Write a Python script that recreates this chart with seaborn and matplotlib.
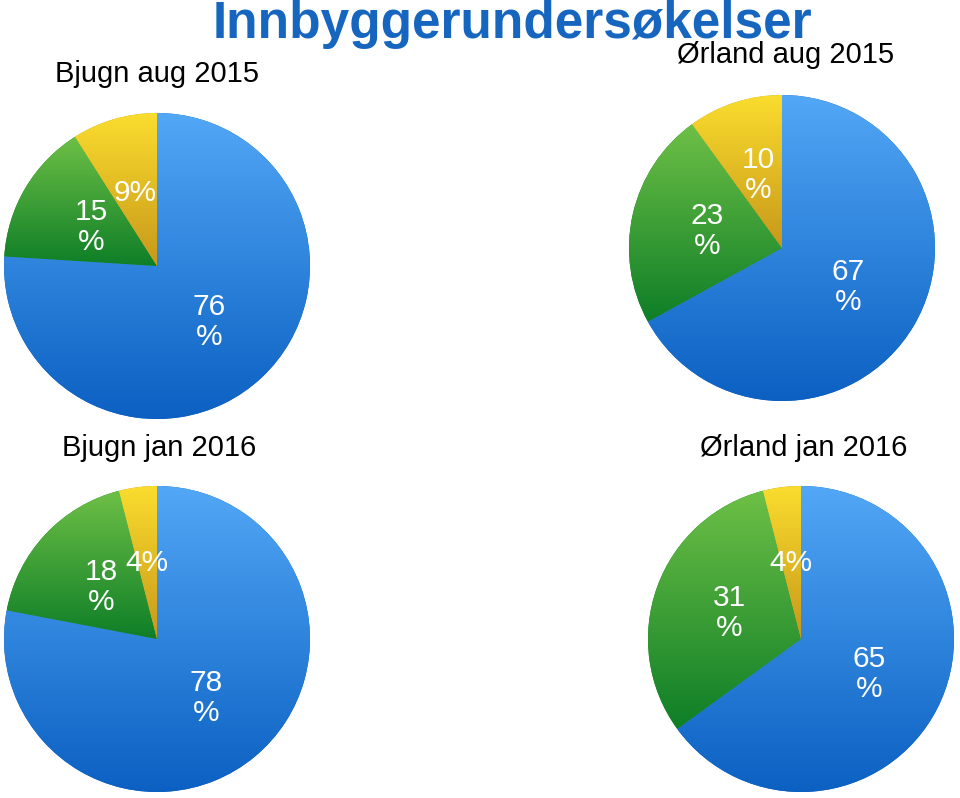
import numpy as np
import matplotlib
matplotlib.use("Agg")
import matplotlib.pyplot as plt
import seaborn as sns
from matplotlib.colors import LinearSegmentedColormap

sns.set_theme(style="white")
plt.rcParams['font.family'] = ['Liberation Sans', 'DejaVu Sans']

# ---- data ----
title = "Innbyggerundersøkelser"
panel_titles = ["Bjugn aug 2015", "Ørland aug 2015", "Bjugn jan 2016", "Ørland jan 2016"]
bjugn_aug_2015 = [76, 15, 9]
orland_aug_2015 = [67, 23, 10]
bjugn_jan_2016 = [78, 18, 4]
orland_jan_2016 = [65, 31, 4]
labels_bjugn_aug_2015 = ["76\n%", "15\n%", "9%"]
labels_orland_aug_2015 = ["67\n%", "23\n%", "10\n%"]
labels_bjugn_jan_2016 = ["78\n%", "18\n%", "4%"]
labels_orland_jan_2016 = ["65\n%", "31\n%", "4%"]

values = [bjugn_aug_2015, orland_aug_2015, bjugn_jan_2016, orland_jan_2016]
labels = [labels_bjugn_aug_2015, labels_orland_aug_2015, labels_bjugn_jan_2016, labels_orland_jan_2016]

# gradient colours (top -> bottom of each wedge)
grads = [("#52A7F6", "#0B60C2"),   # blue
         ("#6EC046", "#0E7E27"),   # green
         ("#FADD2E", "#C8981A")]   # yellow

W, H = 960, 798
fig = plt.figure(figsize=(W / 100, H / 100), dpi=100)

# pie centres in pixels (from top-left) and radius
centres = [(157, 266), (782, 248), (157, 639), (801, 639)]
R = 153
title_pos = [(55, 82, 'left'), (677, 63, 'left'), (62, 456, 'left'), (700, 456, 'left')]

for vals, labs, (cx, cy), ptitle, (tx, ty, tha) in zip(values, labels, centres, panel_titles, title_pos):
    ax = fig.add_axes([(cx - R) / W, (H - cy - R) / H, 2 * R / W, 2 * R / H])
    wedges, texts = ax.pie(vals, labels=labs, startangle=90, counterclock=False,
                           labeldistance=0.5, radius=1,
                           colors=[g[1] for g in grads],
                           textprops=dict(color='white', fontsize=21.5, linespacing=1.1),
                           wedgeprops=dict(linewidth=0))
    for t in texts:
        t.set_ha('center')
        t.set_va('center')
        t.set_zorder(5)
    for w, (c1, c2) in zip(wedges, grads):
        ext = w.get_path().get_extents()
        cmap = LinearSegmentedColormap.from_list('g', [c1, c2])
        grad = np.linspace(0, 1, 256).reshape(-1, 1)
        im = ax.imshow(grad, cmap=cmap, aspect='auto',
                       extent=[ext.x0, ext.x1, ext.y0, ext.y1], origin='upper',
                       zorder=2, interpolation='bilinear')
        im.set_clip_path(w)
    ax.set_xlim(-1, 1)
    ax.set_ylim(-1, 1)
    ax.set_aspect('equal')
    ax.axis('off')
    fig.text(tx / W, (H - ty) / H, ptitle, fontsize=21, color='black',
             ha=tha, va='baseline')

fig.text(512 / W, (H - 38) / H, title, fontsize=37, fontweight='bold',
         color='#1666C0', ha='center', va='baseline')

fig.savefig("out.png", dpi=100)
